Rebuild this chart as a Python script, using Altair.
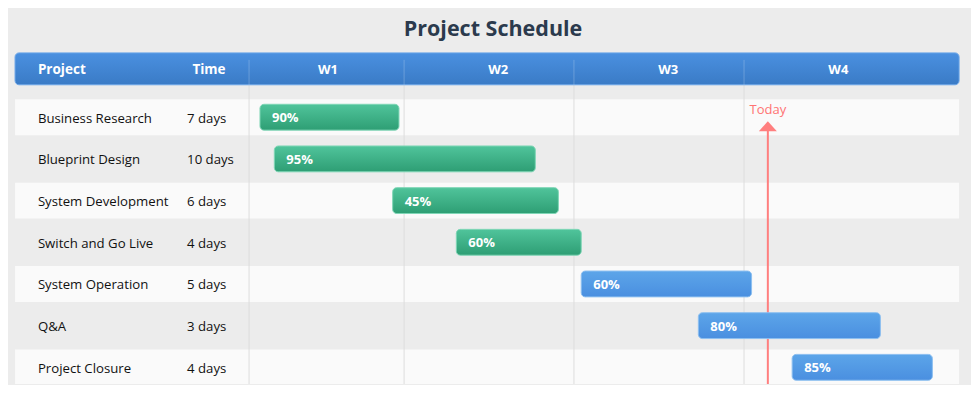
import altair as alt
import pandas as pd

# ---------------- data ----------------
title_text = "Project Schedule"
header_cols = ["Project", "Time"]
projects = ["Business Research", "Blueprint Design", "System Development",
            "Switch and Go Live", "System Operation", "Q&A", "Project Closure"]
durations = ["7 days", "10 days", "6 days", "4 days", "5 days", "3 days", "4 days"]
start_day = [0.70, 1.29, 6.16, 8.78, 13.92, 18.74, 22.60]
end_day = [6.42, 12.03, 12.98, 13.92, 20.93, 26.23, 28.37]
progress = ["90%", "95%", "45%", "60%", "60%", "80%", "85%"]
phase = ["build", "build", "build", "build", "run", "run", "run"]
weeks = ["W1", "W2", "W3", "W4"]
week_center = [3.5, 10.5, 17.5, 24.5]
divider_day = [0.25, 6.63, 13.62, 20.62]
today_day = 21.6
today_label = "Today"

# ---------------- layout constants ----------------
X_MIN, X_MAX = -9.67, 29.96
Y_MIN, Y_MAX = -2.62, 6.40
PANEL_L, PANEL_R = -9.38, 29.47
COL_PROJECT, COL_TIME, COL_TIME_HDR = -8.44, -2.30, -1.40
TITLE_X, TITLE_Y = 10.29, -2.14
HDR_TOP, HDR_BOT, HDR_Y, HDR_LINE_TOP = -1.543, -0.778, -1.16, -1.376
BODY_BOT = 6.40
STRIPE_HALF, BAR_HALF = 0.43, 0.31
TODAY_TEXT_Y, TODAY_ARROW_Y, TODAY_LINE_TOP = -0.20, 0.215, 0.323
TEXT_DY = 1.5

FONT = "Open Sans"

xs = alt.Scale(domain=[X_MIN, X_MAX], nice=False, zero=False)
ys = alt.Scale(domain=[Y_MIN, Y_MAX], nice=False, zero=False, reverse=True)


def X(f):
    return alt.X(f, type="quantitative", scale=xs, axis=None)


def Y(f):
    return alt.Y(f, type="quantitative", scale=ys, axis=None)


rows = pd.DataFrame({
    "row": list(range(len(projects))),
    "project": projects,
    "duration": durations,
    "start": start_day,
    "end": end_day,
    "progress": progress,
    "phase": phase,
})
rows["y0"] = rows["row"] - BAR_HALF
rows["y1"] = rows["row"] + BAR_HALF
rows["s0"] = rows["row"] - STRIPE_HALF
rows["s1"] = (rows["row"] + STRIPE_HALF).clip(upper=Y_MAX)
rows["pl"] = PANEL_L
rows["pr"] = PANEL_R
rows["px"] = COL_PROJECT
rows["tx"] = COL_TIME

stripes = alt.Chart(rows).transform_filter("datum.row % 2 == 0").mark_rect(
    color="#fafafa").encode(x=X("pl"), x2="pr", y=Y("s0"), y2="s1")

header_df = pd.DataFrame({"l": [PANEL_L], "r": [PANEL_R], "t": [HDR_TOP], "b": [HDR_BOT]})
hdr_grad = alt.Gradient(gradient="linear",
                        stops=[alt.GradientStop(offset=0, color="#4a90e0"),
                               alt.GradientStop(offset=1, color="#3a7bc6")],
                        x1=0, x2=0, y1=0, y2=1)
header = alt.Chart(header_df).mark_rect(fill=hdr_grad, cornerRadius=4,
                                        stroke="#6aa5e8", strokeWidth=1).encode(
    x=X("l"), x2="r", y=Y("t"), y2="b")

div_df = pd.DataFrame({"d": divider_day})
div_df["t"] = HDR_LINE_TOP
div_df["m"] = HDR_BOT
div_df["b"] = BODY_BOT
div_hdr = alt.Chart(div_df).mark_rule(color="#ffffff", opacity=0.22, strokeWidth=1).encode(
    x=X("d"), y=Y("t"), y2="m")
div_body = alt.Chart(div_df).mark_rule(color="#dddddd", strokeWidth=1).encode(
    x=X("d"), y=Y("m"), y2="b")

title_df = pd.DataFrame({"t": [title_text], "x": [TITLE_X], "y": [TITLE_Y]})
title = alt.Chart(title_df).mark_text(font=FONT, fontSize=21.5, fontWeight="bold",
                                      color="#2b3a4d", align="center", baseline="middle",
                                      dy=TEXT_DY).encode(
    x=X("x"), y=Y("y"), text="t:N")

hc_df = pd.DataFrame({"t": header_cols, "x": [COL_PROJECT, COL_TIME_HDR],
                      "y": [HDR_Y, HDR_Y]})
hdr_proj = alt.Chart(hc_df.iloc[[0]]).mark_text(font=FONT, fontSize=13.5, fontWeight="bold",
                                                color="white", align="left", baseline="middle",
                                                dy=TEXT_DY).encode(
    x=X("x"), y=Y("y"), text="t:N")
hdr_time = alt.Chart(hc_df.iloc[[1]]).mark_text(font=FONT, fontSize=13.5, fontWeight="bold",
                                                color="white", align="center", baseline="middle",
                                                dy=TEXT_DY).encode(
    x=X("x"), y=Y("y"), text="t:N")
wk_df = pd.DataFrame({"t": weeks, "x": week_center})
wk_df["y"] = HDR_Y
hdr_weeks = alt.Chart(wk_df).mark_text(font=FONT, fontSize=13, fontWeight="bold",
                                       color="white", align="center", baseline="middle",
                                       dy=TEXT_DY).encode(
    x=X("x"), y=Y("y"), text="t:N")

proj_text = alt.Chart(rows).mark_text(font=FONT, fontSize=13.2, color="#111111",
                                      align="left", baseline="middle", dy=TEXT_DY).encode(
    x=X("px"), y=Y("row"), text="project:N")
time_text = alt.Chart(rows).mark_text(font=FONT, fontSize=13.2, color="#111111",
                                      align="left", baseline="middle", dy=TEXT_DY).encode(
    x=X("tx"), y=Y("row"), text="duration:N")

green = alt.Gradient(gradient="linear",
                     stops=[alt.GradientStop(offset=0, color="#50c49b"),
                            alt.GradientStop(offset=1, color="#2e9e74")],
                     x1=0, x2=0, y1=0, y2=1)
blue = alt.Gradient(gradient="linear",
                    stops=[alt.GradientStop(offset=0, color="#5ca5e9"),
                           alt.GradientStop(offset=1, color="#4a8fe0")],
                    x1=0, x2=0, y1=0, y2=1)
bars_g = alt.Chart(rows).transform_filter("datum.phase == 'build'").mark_rect(
    fill=green, cornerRadius=4, stroke="#7fd6b6", strokeWidth=1).encode(
    x=X("start"), x2="end", y=Y("y0"), y2="y1")
bars_b = alt.Chart(rows).transform_filter("datum.phase == 'run'").mark_rect(
    fill=blue, cornerRadius=4, stroke="#8cbff0", strokeWidth=1).encode(
    x=X("start"), x2="end", y=Y("y0"), y2="y1")
bar_text = alt.Chart(rows).mark_text(font=FONT, fontSize=13, fontWeight="bold", color="white",
                                     align="left", baseline="middle", dx=12, dy=1).encode(
    x=X("start"), y=Y("row"), text="progress:N")

td_df = pd.DataFrame({"x": [today_day], "t": [today_label], "ty": [TODAY_TEXT_Y],
                      "ay": [TODAY_ARROW_Y], "l0": [TODAY_LINE_TOP], "l1": [BODY_BOT]})
today_line = alt.Chart(td_df).mark_rule(color="#ff7f7f", strokeWidth=2).encode(
    x=X("x"), y=Y("l0"), y2="l1")
today_arrow = alt.Chart(td_df).mark_point(shape="M0,-0.55L1,0.55L-1,0.55Z", filled=True,
                                          color="#ff7f7f", opacity=1, size=324).encode(
    x=X("x"), y=Y("ay"))
today_text = alt.Chart(td_df).mark_text(font=FONT, fontSize=13, color="#ff7373",
                                        align="center", baseline="middle", dy=TEXT_DY).encode(
    x=X("x"), y=Y("ty"), text="t:N")

chart = alt.layer(
    stripes, div_body, header, div_hdr, title, hdr_proj, hdr_time, hdr_weeks,
    proj_text, time_text, today_line, bars_g, bars_b, bar_text, today_arrow, today_text
).properties(
    width=963, height=377, padding=0,
    autosize=alt.AutoSizeParams(type="fit", contains="padding"),
    background="#ececec",
).configure_view(stroke=None)

chart.save("out.html", embed_options={"renderer": "svg", "actions": False})
